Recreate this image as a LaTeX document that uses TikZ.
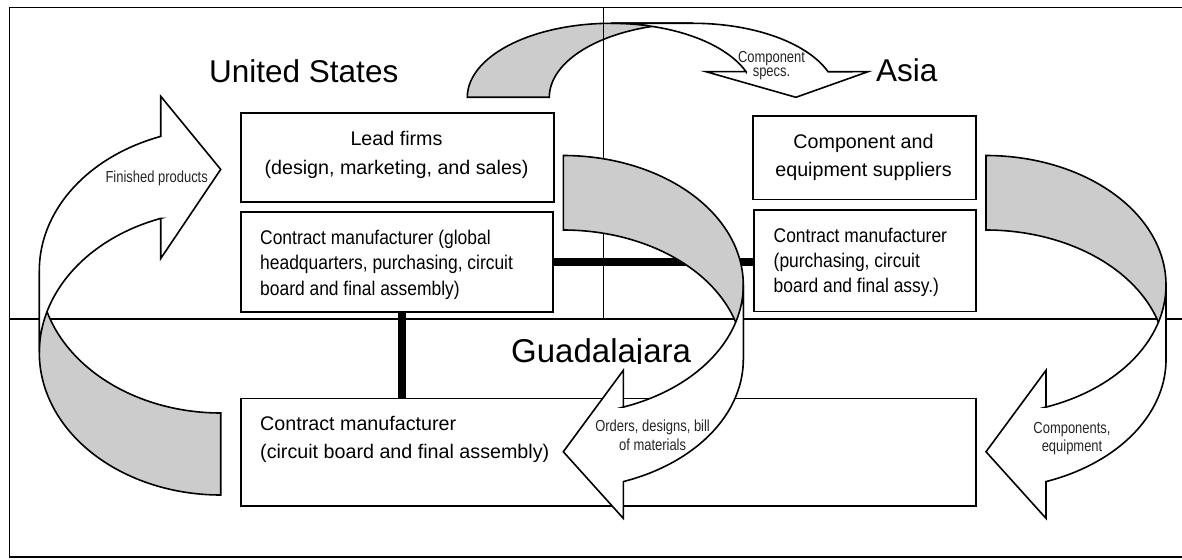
\documentclass[tikz,border=0pt]{standalone}
\usepackage{fontspec}
\setmainfont{Liberation Sans}
\newfontfamily\narrowsans[FakeStretch=0.81]{Liberation Sans}
\newfontfamily\boxnarrow[FakeStretch=0.88]{Liberation Sans}
\usetikzlibrary{calc}
\definecolor{bandgray}{RGB}{204,204,204}

% Curved block arrow drawn in its own frame (y grows downward):
% the tail sits at (0,0)-(0,th), the band bulges toward +x and the head
% points back toward -x at the far end.
% #1 reach, #2 ellipse half height, #3 band thickness, #4 head width, #5 head length
\newcommand{\bentarrow}[5]{%
  \pgfmathsetmacro\ba{acos(#5/#1)}%
  \pgfmathsetmacro\byfive{#2+#2*sin(\ba)}%
  \pgfmathsetmacro\byseven{\byfive+#3}%
  \pgfmathsetmacro\byfour{\byfive-(#4-#3)/2}%
  \pgfmathsetmacro\byeight{\byseven+(#4-#3)/2}%
  \pgfmathsetmacro\bysix{2*#2+(#3+#4)/2-#4/2}%
  \filldraw[bandback] (0,0)
    -- plot[domain=-90:0,samples=60] ({#1*cos(\x)},{#2+#2*sin(\x)})
    -- (#1,#2+#3)
    -- plot[domain=0:-90,samples=60] ({#1*cos(\x)},{#2+#3+#2*sin(\x)})
    -- cycle;
  \filldraw[bandfront] (0,\bysix) -- (#5,\byfour) -- (#5,\byfive)
    -- plot[domain=\ba:0,samples=60] ({#1*cos(\x)},{#2+#2*sin(\x)})
    -- (#1,#2+#3)
    -- plot[domain=0:\ba,samples=60] ({#1*cos(\x)},{#2+#3+#2*sin(\x)})
    -- (#5,\byeight) -- cycle;
}

\begin{document}
\begin{tikzpicture}[x=1pt,y=-1pt,line join=miter,
  box/.style={draw,line width=1.7pt,fill=white,inner sep=0pt,anchor=north west},
  bandback/.style={draw,line width=1.6pt,fill=bandgray},
  bandfront/.style={draw,line width=1.6pt,fill=white},
  rule/.style={line width=1.5pt},
  link/.style={line width=8pt},
  region/.style={inner sep=0pt,anchor=base west},
  boxtext/.style={inner sep=0pt},
  tag/.style={inner sep=0pt,align=center,anchor=base,text=black!85}]

\useasboundingbox (0,0) rectangle (1182,559);

% flow of component specifications, lying under the region lines
\begin{scope}[shift={(467.3,97.3)},rotate=90]
  \bentarrow{74}{143.8}{82}{162}{25.6}
\end{scope}

% outer frame and region dividers
\draw[rule] (1182,7.3) -- (9.3,7.3) -- (9.3,557) -- (1182,557);
\draw[rule] (9.3,319) -- (1182,319);
\draw[rule] (603.3,7.3) -- (603.3,319);

% boxes
\node[box,minimum width=313pt,minimum height=89pt] (lead) at (240,112) {};
\node[box,minimum width=312pt,minimum height=100pt] (uscm) at (240,211) {};
\node[box,minimum width=223pt,minimum height=83.5pt] (asiasup) at (752,115) {};
\node[box,minimum width=222pt,minimum height=101.4pt] (asiacm) at (753,209.3) {};
\node[box,minimum width=735pt,minimum height=107.3pt] (guad) at (240,397.7) {};

% links between the contract manufacturer sites
\coordinate (vx) at (402,0);
\draw[link] (uscm.east) -- (uscm.east -| asiacm.west);
\draw[link] (uscm.south -| vx) -- (guad.north -| vx);

% finished products back to the lead firms
\begin{scope}[shift={(220.7,495)},rotate=180]
  \bentarrow{181.4}{142.3}{82}{162.3}{60}
\end{scope}
% orders, designs and bills of materials
\begin{scope}[shift={(563.3,155.5)}]
  \bentarrow{180}{129.5}{74.5}{148}{60}
\end{scope}
% components and equipment
\begin{scope}[shift={(986,155.5)}]
  \bentarrow{180}{129.5}{74.5}{148}{60}
\end{scope}

% region names
\node[region,font=\fontsize{31.5}{36}\selectfont] (us) at (209,83) {United States};
\node[region,font=\fontsize{31.5}{36}\selectfont] (asia) at (876,82) {Asia};
\begin{scope}
  \clip (500,300) rectangle (730,363.5);
  \node[region,font=\fontsize{33}{38}\selectfont] (gdl) at (511,362.5) {Guadalajara};
\end{scope}

% box texts (each anchored on the baseline of its last line)
\node[boxtext,align=center,anchor=base,font=\fontsize{19.7}{29}\selectfont] (leadtxt)
  at (396.5,174) {Lead firms\\(design, marketing, and sales)};
\node[boxtext,align=left,anchor=base west,font=\boxnarrow\fontsize{19.8}{25.3}\selectfont] (uscmtxt)
  at (260,295) {Contract manufacturer (global\\headquarters, purchasing, circuit\\board and final assembly)};
\node[boxtext,align=center,anchor=base,font=\fontsize{19.7}{28}\selectfont] (asiasuptxt)
  at (863.5,176) {Component and\\equipment suppliers};
\node[boxtext,align=left,anchor=base west,font=\boxnarrow\fontsize{19.8}{25}\selectfont] (asiacmtxt)
  at (773.5,292.3) {Contract manufacturer\\(purchasing, circuit\\board and final assy.)};
\node[boxtext,align=left,anchor=base west,font=\fontsize{19.7}{27.6}\selectfont] (guadtxt)
  at (260,458.3) {Contract manufacturer\\(circuit board and final assembly)};

% arrow labels
\node[tag,font=\narrowsans\fontsize{16}{18}\selectfont] (fin) at (156.7,182.7) {Finished products};
\node[tag,font=\narrowsans\fontsize{16}{14.4}\selectfont] (spec) at (771.5,76.7) {Component\\specs.};
\node[tag,font=\narrowsans\fontsize{16}{18.3}\selectfont] (ord) at (652.6,450) {Orders, designs, bill\\of materials};
\node[tag,font=\narrowsans\fontsize{16}{18.4}\selectfont] (comp) at (1072,451.7) {Components,\\equipment};

\end{tikzpicture}
\end{document}
